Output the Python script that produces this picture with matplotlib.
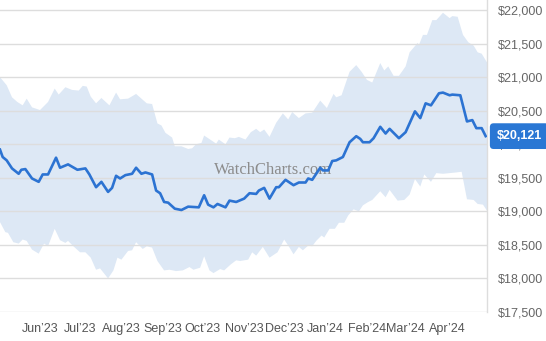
import numpy as np
import pandas as pd
import matplotlib
matplotlib.use("Agg")
import matplotlib.pyplot as plt
import matplotlib.dates as mdates
from matplotlib.ticker import FuncFormatter

# price history, days counted from the first observation
start = pd.Timestamp("2023-05-02")
line_days = [0, 2, 5, 9, 14, 16, 19, 24, 29, 32, 36, 42, 45, 51, 58, 64, 67, 72, 76, 81,
             84, 87, 90, 94, 99, 102, 106, 109, 114, 117, 120, 123, 126, 131, 136, 141, 149,
             153, 156, 160, 163, 169, 172, 177, 183, 187, 192, 194, 198, 202, 207, 209, 214,
             220, 224, 229, 231, 234, 240, 242, 246, 249, 252, 257, 262, 267, 270, 272, 277,
             280, 285, 289, 292, 299, 304, 311, 315, 319, 323, 329, 332, 337, 339, 345, 350,
             354, 357, 361, 364]
line_prices = [19920, 19810, 19760, 19640, 19560, 19620, 19630, 19490, 19440, 19550, 19550,
               19800, 19650, 19700, 19620, 19640, 19550, 19360, 19440, 19290, 19350, 19530,
               19490, 19540, 19560, 19650, 19560, 19580, 19550, 19310, 19270, 19140, 19130,
               19040, 19020, 19070, 19060, 19240, 19100, 19060, 19110, 19060, 19160, 19140,
               19190, 19270, 19260, 19310, 19350, 19190, 19360, 19360, 19470, 19390, 19430,
               19430, 19490, 19470, 19650, 19610, 19610, 19750, 19760, 19810, 20030, 20120,
               20080, 20030, 20030, 20090, 20260, 20160, 20230, 20090, 20180, 20490, 20390,
               20610, 20580, 20760, 20770, 20730, 20740, 20730, 20340, 20360, 20240, 20240,
               20121]

# upper and lower edge of the price range band
upper_days = [0, 5, 9, 13, 17, 20, 24, 30, 36, 41, 44, 49, 54, 59, 62, 65, 68, 72, 76, 82,
              87, 90, 96, 102, 106, 110, 114, 118, 121, 124, 129, 131, 136, 141, 144, 147,
              151, 153, 159, 162, 164, 169, 172, 176, 179, 184, 188, 192, 195, 198, 202, 207,
              212, 216, 219, 224, 229, 234, 240, 245, 250, 252, 256, 262, 267, 271, 275, 279,
              285, 288, 291, 295, 299, 304, 307, 313, 314, 317, 320, 324, 327, 332, 337, 339,
              343, 347, 351, 355, 358, 361, 365]
upper_prices = [21000, 20880, 20700, 20630, 20580, 20680, 20550, 20510, 20630, 20830, 20740,
                20850, 20810, 20800, 20870, 20860, 20710, 20610, 20690, 20580, 20770, 20670,
                20680, 20750, 20680, 20610, 20600, 20310, 20280, 20170, 20100, 19970, 19970,
                19930, 19940, 20000, 20020, 20130, 20050, 20010, 20070, 20000, 20100, 20090,
                20110, 20070, 20180, 20230, 20180, 20220, 20110, 20320, 20460, 20370, 20480,
                20390, 20460, 20470, 20650, 20540, 20750, 20700, 20730, 21080, 21180, 21080,
                20960, 20920, 21210, 21100, 21160, 21020, 21020, 21160, 21370, 21510, 21480,
                21630, 21630, 21850, 21850, 21960, 21880, 21910, 21900, 21630, 21520, 21470,
                21370, 21350, 21220]
lower_days = [0, 4, 6, 10, 14, 17, 20, 24, 29, 33, 36, 41, 45, 49, 51, 55, 60, 64, 68, 72,
              75, 81, 85, 88, 91, 96, 99, 102, 107, 110, 114, 118, 123, 127, 132, 137, 142,
              145, 150, 153, 157, 160, 165, 168, 173, 177, 180, 186, 189, 192, 197, 202, 208,
              213, 217, 220, 224, 227, 231, 234, 237, 241, 243, 247, 251, 254, 258, 261, 265,
              269, 272, 276, 279, 285, 289, 292, 298, 303, 307, 311, 315, 318, 323, 327, 332,
              337, 342, 346, 350, 355, 358, 362, 365]
lower_prices = [18840, 18690, 18680, 18540, 18520, 18580, 18560, 18430, 18370, 18520, 18480,
                18740, 18570, 18530, 18560, 18480, 18390, 18390, 18310, 18130, 18150, 18000,
                18120, 18310, 18280, 18410, 18420, 18540, 18440, 18480, 18460, 18260, 18120,
                18130, 18110, 18120, 18170, 18130, 18160, 18330, 18120, 18080, 18140, 18120,
                18210, 18270, 18260, 18280, 18390, 18340, 18470, 18310, 18390, 18580, 18460,
                18360, 18470, 18420, 18490, 18480, 18560, 18640, 18610, 18740, 18740, 18830,
                18830, 18940, 19030, 19000, 19090, 19140, 19170, 19300, 19210, 19320, 19160,
                19170, 19250, 19480, 19370, 19550, 19440, 19570, 19560, 19570, 19580, 19590,
                19180, 19170, 19110, 19100, 19010]

last_price = 20121
month_ticks = pd.date_range("2023-06-01", "2024-04-01", freq="MS")
y_ticks = np.arange(17500, 22001, 500)

line_dates = start + pd.to_timedelta(line_days, unit="D")
upper_dates = start + pd.to_timedelta(upper_days, unit="D")
lower_dates = start + pd.to_timedelta(lower_days, unit="D")

fig = plt.figure(figsize=(5.46, 3.41), dpi=100)
ax = fig.add_axes([0, 29 / 341, 487 / 546, 312 / 341])

# shaded range: walk along the top edge, back along the bottom edge
band_x = np.concatenate([mdates.date2num(upper_dates), mdates.date2num(lower_dates)[::-1]])
band_y = np.concatenate([upper_prices, lower_prices[::-1]])
ax.fill(band_x, band_y, color="#dde8f5", lw=0, zorder=1)

ax.plot(line_dates, line_prices, color="#2c73d2", lw=1.9, zorder=3,
        solid_joinstyle="round")

ax.text(0.56, 0.455, "WatchCharts.com", transform=ax.transAxes, ha="center", va="center",
        fontsize=12, family="Liberation Serif", color="#8c8c8c", zorder=2)

ax.set_xlim(start, start + pd.Timedelta(days=365))
ax.set_ylim(17500, 22150)

for v in y_ticks:
    ax.axhline(v, color="#dddddd", lw=1, zorder=2.5)

for s in ["top", "left", "bottom"]:
    ax.spines[s].set_visible(False)
ax.spines["right"].set_color("#dddddd")
ax.spines["right"].set_linewidth(1)

ax.set_xticks(month_ticks)
ax.xaxis.set_major_formatter(mdates.DateFormatter("%b\u2019%y"))
ax.yaxis.tick_right()
ax.set_yticks(y_ticks)
ax.yaxis.set_major_formatter(FuncFormatter(lambda v, p: f"${v:,.0f}"))
ax.tick_params(axis="x", length=0, pad=8, labelsize=9, labelcolor="#555555")
ax.tick_params(axis="y", length=0, pad=8, labelsize=9, labelcolor="#666666")
for lbl in ax.get_xticklabels() + ax.get_yticklabels():
    lbl.set_family("Liberation Sans")

# current price badge, drawn at figure level so it sits over the axis labels
fig.text(1.02, last_price, f"${last_price:,}", transform=ax.get_yaxis_transform(),
         ha="left", va="center", fontsize=9, fontweight="bold", color="white",
         family="Liberation Sans", zorder=10,
         bbox=dict(boxstyle="round,pad=0.55,rounding_size=0.3", fc="#2a77d4", ec="none"))

fig.savefig("out.png", dpi=100)
